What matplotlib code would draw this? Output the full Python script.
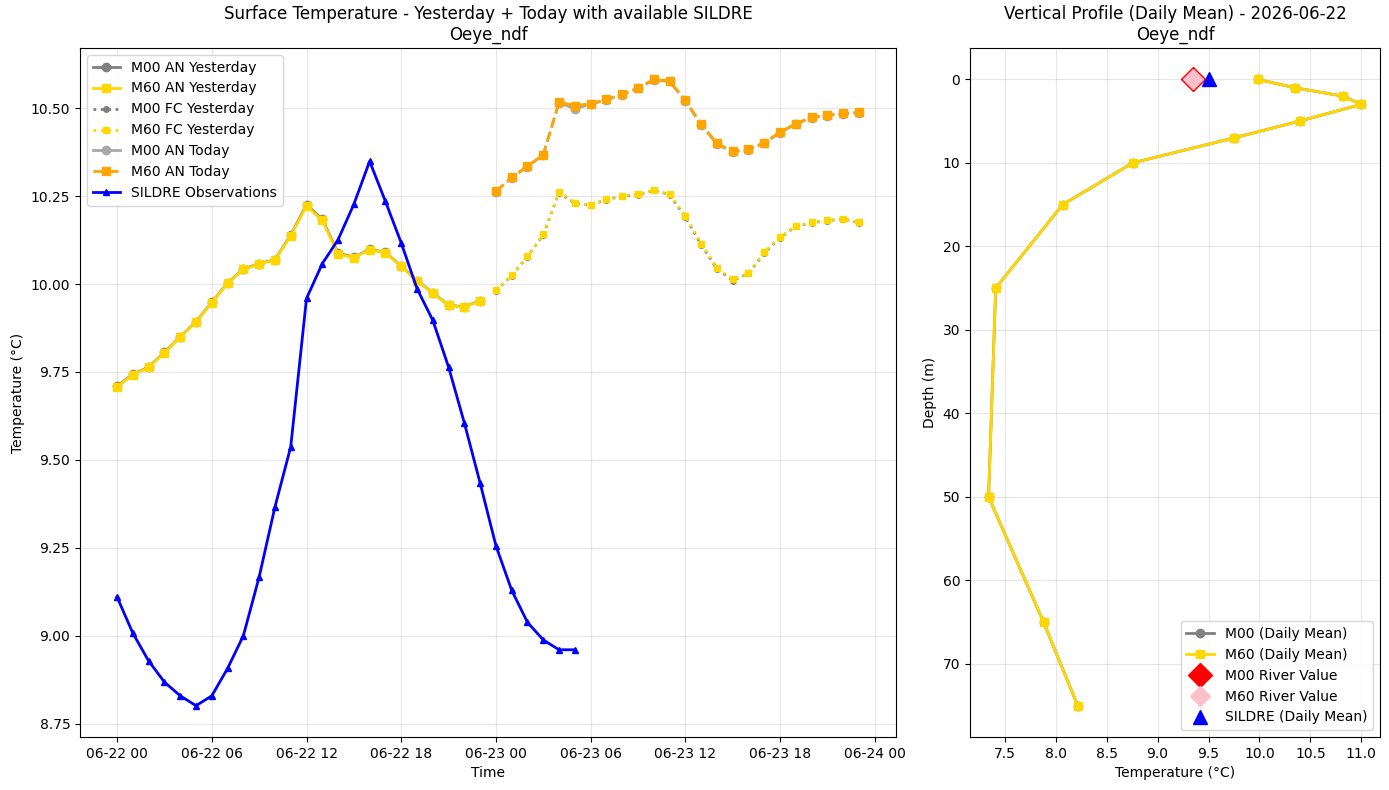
import matplotlib
matplotlib.use("Agg")
import matplotlib.pyplot as plt
import matplotlib.dates as mdates
from matplotlib.ticker import FormatStrFormatter, MultipleLocator
import numpy as np
import pandas as pd

# surface time series (hourly)
t_yest = pd.date_range("2026-06-22 00:00", periods=24, freq="h")
t_today = pd.date_range("2026-06-23 00:00", periods=24, freq="h")
t_sildre = pd.date_range("2026-06-22 00:00", periods=30, freq="h")

m60_an_yest = [9.708, 9.742, 9.763, 9.805, 9.849, 9.892, 9.947, 10.002, 10.042, 10.057,
               10.068, 10.137, 10.222, 10.181, 10.085, 10.075, 10.098, 10.089, 10.050, 10.009,
               9.974, 9.939, 9.934, 9.952]
m00_an_yest = [9.710, 9.743, 9.764, 9.806, 9.850, 9.893, 9.948, 10.003, 10.043, 10.058,
               10.069, 10.139, 10.226, 10.184, 10.088, 10.076, 10.099, 10.090, 10.051, 10.010,
               9.975, 9.940, 9.935, 9.953]

m60_fc_yest = [9.982, 10.025, 10.079, 10.141, 10.262, 10.231, 10.224, 10.241, 10.251, 10.255,
               10.267, 10.255, 10.194, 10.115, 10.046, 10.013, 10.031, 10.091, 10.134, 10.165,
               10.175, 10.181, 10.186, 10.175]
m00_fc_yest = [9.981, 10.024, 10.078, 10.140, 10.260, 10.229, 10.224, 10.240, 10.250, 10.254,
               10.266, 10.254, 10.190, 10.112, 10.043, 10.010, 10.030, 10.088, 10.132, 10.164,
               10.174, 10.180, 10.185, 10.174]

m60_an_today = [10.264, 10.303, 10.335, 10.368, 10.518, 10.507, 10.513, 10.525, 10.539, 10.558,
                10.582, 10.578, 10.522, 10.455, 10.400, 10.377, 10.383, 10.402, 10.432, 10.456,
                10.474, 10.480, 10.485, 10.488]
m00_an_today = [10.263, 10.302, 10.334, 10.367, 10.515, 10.499, 10.511, 10.524, 10.538, 10.556,
                10.580, 10.576, 10.520, 10.453, 10.398, 10.375, 10.381, 10.400, 10.430, 10.455,
                10.473, 10.479, 10.484, 10.487]

sildre = [9.110, 9.007, 8.928, 8.868, 8.829, 8.801, 8.829, 8.907, 9.000, 9.167,
          9.366, 9.537, 9.959, 10.058, 10.126, 10.227, 10.349, 10.235, 10.117, 9.987,
          9.897, 9.764, 9.605, 9.434, 9.256, 9.129, 9.038, 8.988, 8.960, 8.960]

# vertical profile (daily mean)
depths = [0, 1, 2, 3, 5, 7, 10, 15, 25, 50, 65, 75]
m60_profile = [9.984, 10.345, 10.817, 11.001, 10.394, 9.754, 8.757, 8.068, 7.410, 7.340, 7.880, 8.215]
m00_profile = [9.984, 10.345, 10.817, 11.001, 10.394, 9.754, 8.757, 8.068, 7.410, 7.340, 7.880, 8.215]
m00_river = 9.35
m60_river = 9.35
sildre_mean = 9.508


fig = plt.figure(figsize=(13.89, 7.90), dpi=100)
ax1 = fig.add_axes([0.0576, 0.0671, 0.5875, 0.8721])
ax2 = fig.add_axes([0.6983, 0.0671, 0.2952, 0.8721])

ax1.plot(t_yest, m00_an_yest, color="gray", marker="o", ms=6, lw=2, label="M00 AN Yesterday")
ax1.plot(t_yest, m60_an_yest, color="gold", marker="s", ms=6, lw=2, label="M60 AN Yesterday")
ax1.plot(t_today, m00_fc_yest, color="gray", marker="o", ms=4, lw=2, ls=":", label="M00 FC Yesterday")
ax1.plot(t_today, m60_fc_yest, color="gold", marker="s", ms=4, lw=2, ls=":", label="M60 FC Yesterday")
ax1.plot(t_today, m00_an_today, color="darkgray", marker="o", ms=6, lw=2, ls="--", label="M00 AN Today")
ax1.plot(t_today, m60_an_today, color="orange", marker="s", ms=6, lw=2, ls="--", label="M60 AN Today")
ax1.plot(t_sildre, sildre, color="blue", marker="^", ms=5, lw=2, label="SILDRE Observations")

ax1.set_title("Surface Temperature - Yesterday + Today with available SILDRE\nOeye_ndf")
ax1.set_xlabel("Time")
ax1.set_ylabel("Temperature (°C)")
ax1.yaxis.set_major_locator(MultipleLocator(0.25))
ax1.yaxis.set_major_formatter(FormatStrFormatter("%.2f"))
ax1.xaxis.set_major_locator(mdates.HourLocator(byhour=[0, 6, 12, 18]))
ax1.xaxis.set_major_formatter(mdates.DateFormatter("%m-%d %H"))
ax1.grid(True, alpha=0.3)
leg = ax1.legend(loc="upper left")
# legend sample for M00 AN Today is drawn solid
leg.get_lines()[4].set_linestyle("-")

ax2.plot(m00_profile, depths, color="gray", marker="o", ms=6, lw=2, label="M00 (Daily Mean)")
ax2.plot(m60_profile, depths, color="gold", marker="s", ms=6, lw=2, label="M60 (Daily Mean)")
ax2.plot(m00_river, 0, color="red", marker="D", ms=12, ls="none", label="M00 River Value")
ax2.plot(m60_river, 0, color="pink", marker="D", ms=10, ls="none", label="M60 River Value")
ax2.plot(sildre_mean, 0, color="blue", marker="^", ms=10, ls="none", label="SILDRE (Daily Mean)")
ax2.invert_yaxis()
ax2.set_title("Vertical Profile (Daily Mean) - 2026-06-22\nOeye_ndf")
ax2.set_xlabel("Temperature (°C)")
ax2.set_ylabel("Depth (m)")
ax2.grid(True, alpha=0.3)
ax2.legend(loc="lower right")

plt.savefig("out.png")
